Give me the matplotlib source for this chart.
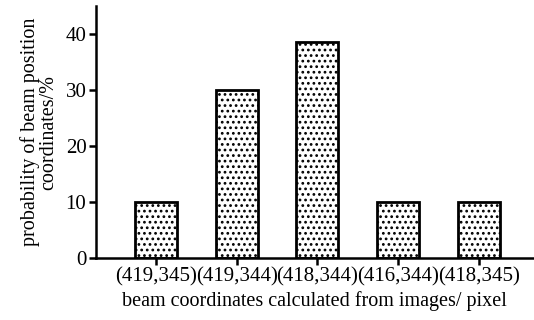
import matplotlib.pyplot as plt

plt.rcParams['font.family'] = ['Liberation Serif', 'DejaVu Serif']
plt.rcParams['hatch.linewidth'] = 1.2

coords = ['(419,345)', '(419,344)', '(418,344)', '(416,344)', '(418,345)']
probability = [10, 30, 38.5, 10, 10]

fig = plt.figure(figsize=(5.34, 3.2), dpi=100)
ax = fig.add_axes([0.18, 0.194, 0.818, 0.787])

x = range(len(coords))
ax.bar(x, probability, width=0.52, color='white', edgecolor='black',
       linewidth=2, hatch='...')

ax.set_xlim(-0.74, 4.67)
ax.set_ylim(0, 45)
ax.set_yticks([0, 10, 20, 30, 40])
ax.set_xticks(list(x))
ax.set_xticklabels(coords)

ax.spines['top'].set_visible(False)
ax.spines['right'].set_visible(False)
ax.spines['left'].set_linewidth(1.8)
ax.spines['bottom'].set_linewidth(1.8)
ax.tick_params(direction='out', width=1.8, length=5, labelsize=15, pad=2)

ax.set_xlabel('beam coordinates calculated from images/ pixel', fontsize=14.5, labelpad=3)
ax.set_ylabel('probability of beam position\ncoordinates/%', fontsize=14.5,
              linespacing=1.0, labelpad=5)

fig.savefig('out.png', dpi=100)
